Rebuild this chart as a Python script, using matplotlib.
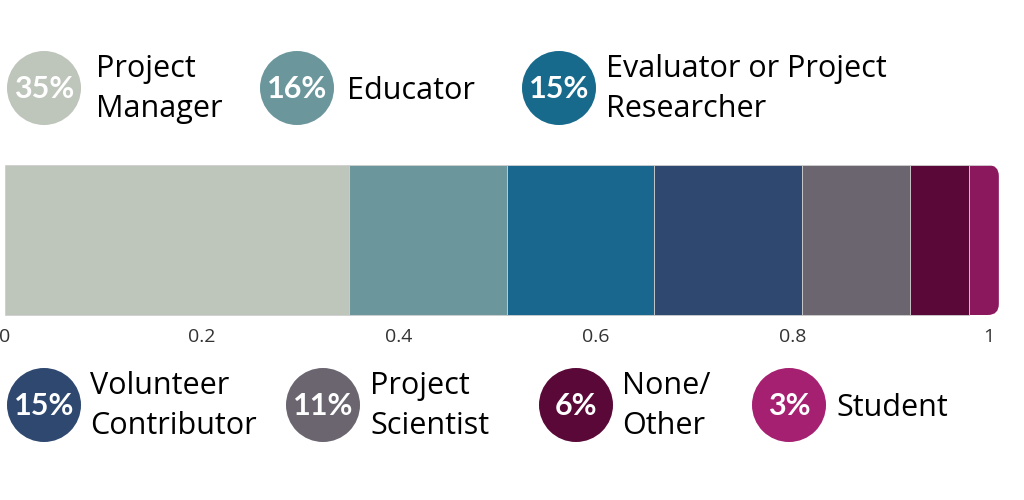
import matplotlib.pyplot as plt
from matplotlib.patches import Circle, FancyBboxPatch
from matplotlib.ticker import FuncFormatter

# share of respondents by role
roles = ["Project\nManager", "Educator", "Evaluator or Project\nResearcher",
         "Volunteer\nContributor", "Project\nScientist", "None/\nOther", "Student"]
shares = [0.35, 0.16, 0.15, 0.15, 0.11, 0.06, 0.03]
bar_colors = ["#BEC5BA", "#6B979C", "#19678F", "#2E4870", "#6B6570", "#5A0838", "#8B185C"]
dot_colors = ["#BEC5BA", "#6B979C", "#176A8C", "#2E4870", "#6B6570", "#5A0838", "#A52070"]
ticks = [0, 0.2, 0.4, 0.6, 0.8, 1]

# legend spots in pixels (circle centre x, centre y, label x)
spots = [(44, 88, 96), (297, 88, 347), (559, 88, 606), (44, 405, 90),
         (323, 405, 370), (576, 405, 622), (789, 405, 836)]
radius = 37

W, H = 1024, 500
fig = plt.figure(figsize=(W / 100, H / 100), dpi=100)

ax = fig.add_axes([5 / W, (H - 315) / H, 984 / W, 150 / H])
ax.set_xlim(0, 1)
ax.set_ylim(-0.5, 0.5)

left = 0
for i, (v, c) in enumerate(zip(shares, bar_colors)):
    b = ax.barh(0, v, left=left, height=1, color=c, edgecolor="#cfcfcf",
                linewidth=0.6, clip_on=False)
    if i == len(shares) - 1:
        # round the right end of the bar
        r = 11 / 984
        clip = FancyBboxPatch((left - 0.05, -0.5), v + 0.05, 1,
                              boxstyle="round,pad=0,rounding_size=%f" % r,
                              mutation_aspect=984 / 150, transform=ax.transData,
                              facecolor="none", edgecolor="none")
        b[0].set_clip_on(True)
        b[0].set_clip_path(clip)
        b[0].set_clip_box(None)
    left += v

ax.set_xticks(ticks)
ax.xaxis.set_major_formatter(FuncFormatter(lambda x, p: "%g" % x))
ax.tick_params(axis="x", length=0, pad=9, labelsize=14, labelcolor="#333333")
for t in ax.get_xticklabels():
    t.set_fontfamily("Open Sans")
ax.set_yticks([])
for s in ax.spines.values():
    s.set_visible(False)

# overlay for the circle labels
ov = fig.add_axes([0, 0, 1, 1])
ov.set_xlim(0, W)
ov.set_ylim(H, 0)
ov.axis("off")

for (cx, cy, tx), v, c, name in zip(spots, shares, dot_colors, roles):
    ov.add_patch(Circle((cx, cy), radius, color=c, lw=0))
    ov.text(cx, cy + 1, "%d%%" % round(v * 100), ha="center", va="center",
            color="white", fontsize=22, fontweight="bold", family="Lato")
    dy = 3 if "\n" not in name else 1
    ov.text(tx, cy + dy, name, ha="left", va="center",
            color="black", fontsize=22, family="Open Sans", linespacing=1.45)

fig.savefig("out.png", dpi=100)
